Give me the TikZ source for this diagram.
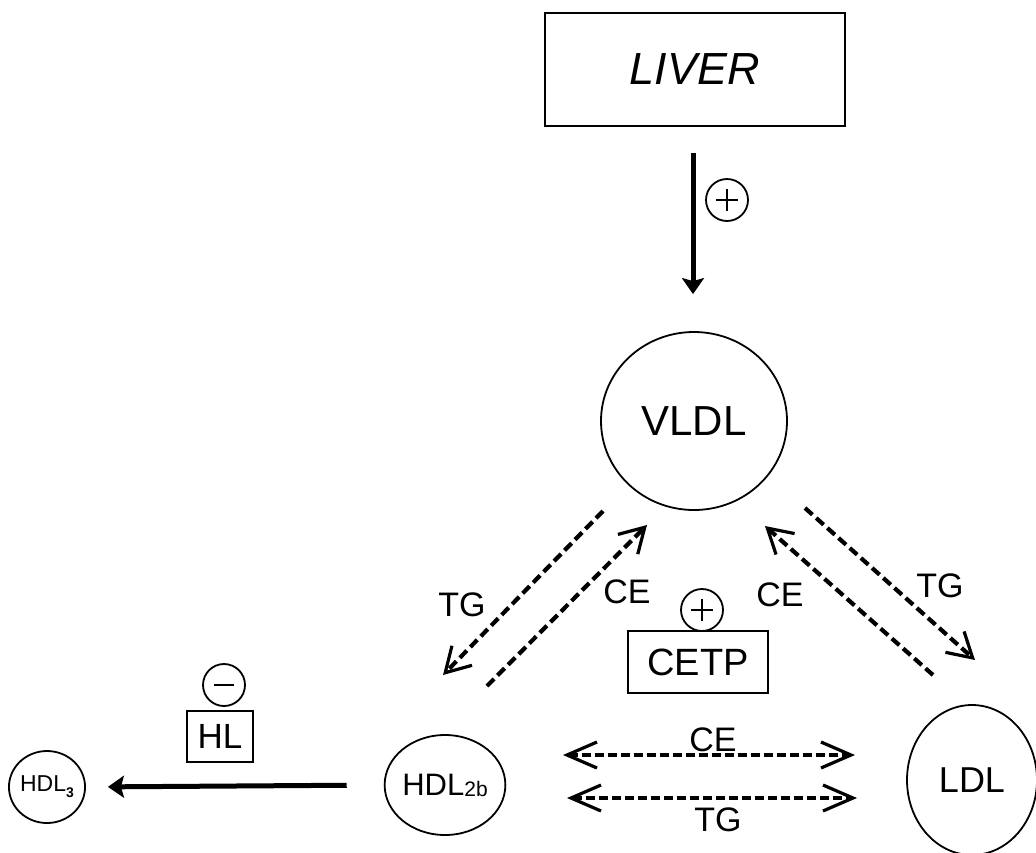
\documentclass[tikz,border=0pt]{standalone}
\usepackage{fontspec}
\setmainfont{Liberation Sans}
\usetikzlibrary{arrows.meta,shapes.geometric}
\tikzset{
  particle/.style={ellipse, draw, line width=1.8pt, inner sep=0pt},
  enzyme/.style={rectangle, draw, line width=2pt, inner sep=0pt},
  effect/.style={circle, draw, line width=1.8pt, minimum size=42pt, inner sep=0pt},
  upreg/.style={effect, path picture={
      \draw[line width=1.8pt] ([xshift=-11pt]path picture bounding box.center) -- ([xshift=11pt]path picture bounding box.center);
      \draw[line width=1.8pt] ([yshift=-11pt]path picture bounding box.center) -- ([yshift=11pt]path picture bounding box.center);}},
  downreg/.style={effect, path picture={
      \draw[line width=2.4pt] ([xshift=-10pt]path picture bounding box.center) -- ([xshift=10pt]path picture bounding box.center);}},
  flux/.style={line width=5pt, -{Stealth[length=16pt,width=22pt,inset=3pt]}},
  transfer/.style={line width=4.2pt, dash pattern=on 10pt off 5pt,
      -{Straight Barb[length=24pt,width=28pt,line width=3.2pt]}},
  exchange/.style={line width=4pt, dash pattern=on 9pt off 4pt,
      {Straight Barb[length=30pt,width=26pt,line width=3.2pt]}-{Straight Barb[length=30pt,width=26pt,line width=3.2pt]}},
  lbl/.style={font=\fontsize{34}{36}\selectfont, inner sep=0pt}
}
\begin{document}
\begin{tikzpicture}[x=1pt,y=-1pt]
    \useasboundingbox (0,0) rectangle (1036,852);
    \node[enzyme, minimum width=300pt, minimum height=113pt, font=\fontsize{45}{50}\selectfont\itshape] (liver) at (695,69) {LIVER};
    \node[particle, minimum width=186pt, minimum height=178pt, font=\fontsize{42}{44}\selectfont] (vldl) at (694,421) {VLDL};
    \node[particle, minimum width=100pt, minimum height=100pt, font=\fontsize{31}{32}\selectfont] (hdl2b) at (445,785) {HDL\raisebox{-1pt}{\fontsize{21}{21}\selectfont 2b}};
    \node[particle, minimum width=72pt, minimum height=72pt, font=\fontsize{23}{24}\selectfont] (hdl3) at (47,787) {HDL\raisebox{-6pt}{\fontsize{14}{14}\selectfont\bfseries 3}};
    \node[particle, minimum width=130pt, minimum height=150pt, font=\fontsize{36}{38}\selectfont] (ldl) at (972,780) {LDL};
    \node[enzyme, minimum width=140pt, minimum height=62pt, font=\fontsize{38}{40}\selectfont] (cetp) at (698,662) {CETP};
    \node[enzyme, minimum width=66pt, minimum height=51pt, font=\fontsize{35}{37}\selectfont] (hl) at (220,736) {HL};
    \node[upreg] (secr) at (727,200) {};
    \node[upreg] (cetpUp) at (702,610) {};
    \node[downreg] (hlDown) at (224,685) {};

    \coordinate (tgA) at (603,511);  \coordinate (tgB) at (443,675);
    \coordinate (ceA) at (487,686);  \coordinate (ceB) at (647,525);
    \coordinate (tgC) at (805,508);  \coordinate (tgD) at (975,660);
    \coordinate (ceC) at (933,675);  \coordinate (ceD) at (765,526);
    \coordinate (ceL) at (563,755);  \coordinate (ceR) at (855,755);
    \coordinate (tgL) at (567,798);  \coordinate (tgR) at (857,798);

    \draw[flux, shorten <=26pt, shorten >=37pt] (liver.south -| 693,0) -- (vldl.north -| 693,0);
    \draw[flux, shorten <=37pt, shorten >=22pt] (hdl2b.west) -- (hdl3.east);
    \draw[transfer] (tgA) -- (tgB);
    \draw[transfer] (ceA) -- (ceB);
    \draw[transfer] (tgC) -- (tgD);
    \draw[transfer] (ceC) -- (ceD);
    \draw[exchange] (ceL) -- (ceR);
    \draw[exchange] (tgL) -- (tgR);

    \node[lbl] (tgLeft) at (462,605) {TG};
    \node[lbl] (ceLeft) at (627,592) {CE};
    \node[lbl] (ceRight) at (780,595) {CE};
    \node[lbl] (tgRight) at (940,586) {TG};
    \node[lbl] (ceMid) at (713,740) {CE};
    \node[lbl] (tgMid) at (718,820) {TG};
\end{tikzpicture}
\end{document}
